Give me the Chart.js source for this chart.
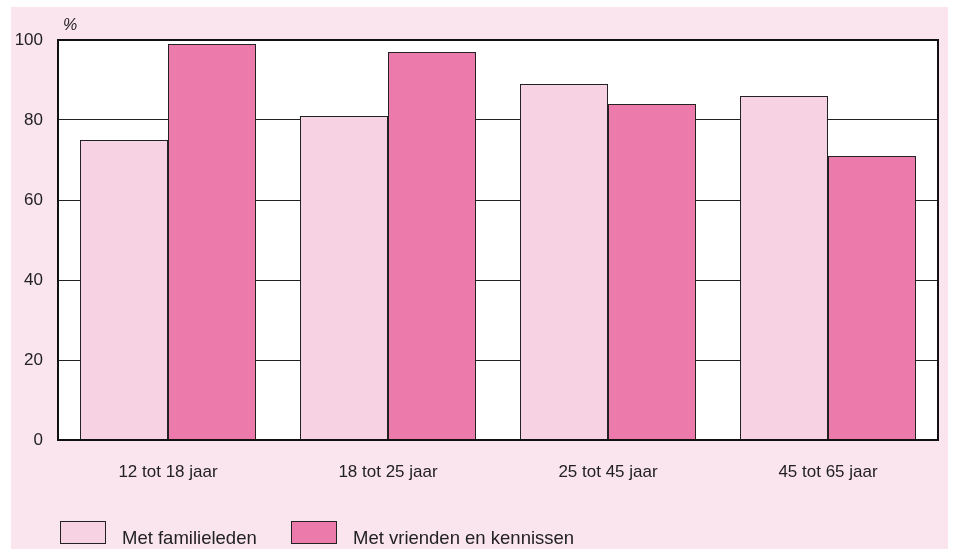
<!DOCTYPE html>
<html>
<head>
<meta charset="utf-8">
<script src="https://cdn.jsdelivr.net/npm/chart.js@4/dist/chart.umd.min.js"></script>
<style>
  html, body { margin: 0; padding: 0; background: #ffffff; }
  #wrap { width: 959px; height: 549px; position: relative; }
</style>
</head>
<body>
<div id="wrap"><canvas id="c" width="959" height="549"></canvas></div>
<script>
const categories = ['12 tot 18 jaar', '18 tot 25 jaar', '25 tot 45 jaar', '45 tot 65 jaar'];
const familieleden = [75, 81, 89, 86];
const vrienden = [99, 97, 84, 71];
const seriesLabels = ['Met familieleden', 'Met vrienden en kennissen'];
const seriesColors = ['#f7d2e3', '#ec7aaa'];
const yTicks = [0, 20, 40, 60, 80, 100];
const unitLabel = '%';

const FONT = "'Liberation Sans', Arial, Helvetica, sans-serif";

const decor = {
  id: 'decor',
  beforeDraw(chart) {
    const ctx = chart.ctx;
    ctx.save();
    ctx.fillStyle = '#ffffff';
    ctx.fillRect(0, 0, chart.width, chart.height);
    ctx.fillStyle = '#fae4ee';
    ctx.fillRect(11, 7, 937, chart.height - 7);
    const a = chart.chartArea;
    ctx.fillStyle = '#ffffff';
    ctx.fillRect(a.left, a.top, a.right - a.left, a.bottom - a.top);
    ctx.restore();
  },
  afterDraw(chart) {
    const ctx = chart.ctx;
    const a = chart.chartArea;
    ctx.save();
    ctx.strokeStyle = '#111';
    ctx.lineWidth = 2;
    ctx.strokeRect(a.left, a.top, a.right - a.left, a.bottom - a.top);
    // unit label
    ctx.fillStyle = '#222';
    ctx.font = 'italic 16px ' + FONT;
    ctx.textBaseline = 'middle';
    ctx.textAlign = 'left';
    ctx.fillText(unitLabel, 63, 26);
    // legend
    const items = chart.data.datasets;
    const boxX = [60, 291];
    items.forEach((ds, i) => {
      const x = boxX[i];
      ctx.fillStyle = ds.backgroundColor;
      ctx.fillRect(x, 521, 45, 22);
      ctx.strokeStyle = '#222';
      ctx.lineWidth = 1;
      ctx.strokeRect(x + 0.5, 521.5, 45, 22);
      ctx.fillStyle = '#222';
      ctx.font = '18.5px ' + FONT;
      ctx.textBaseline = 'alphabetic';
      ctx.fillText(ds.label, x + 62, 543.5);
    });
    ctx.restore();
  }
};

new Chart(document.getElementById('c'), {
  type: 'bar',
  data: {
    labels: categories,
    datasets: [
      { label: seriesLabels[0], data: familieleden, backgroundColor: seriesColors[0], borderColor: '#222', borderWidth: 1 },
      { label: seriesLabels[1], data: vrienden, backgroundColor: seriesColors[1], borderColor: '#222', borderWidth: 1 }
    ]
  },
  options: {
    responsive: false,
    animation: false,
    devicePixelRatio: 1,
    layout: { padding: { top: 40, right: 21, left: 0, bottom: 0 } },
    plugins: { legend: { display: false }, tooltip: { enabled: false }, title: { display: false } },
    datasets: { bar: { categoryPercentage: 0.8, barPercentage: 1.0 } },
    scales: {
      x: {
        grid: { display: false },
        border: { display: false },
        ticks: { color: '#222', font: { family: FONT, size: 17 }, padding: 14 },
        afterFit(scale) { scale.height = 109; }
      },
      y: {
        min: 0, max: 100,
        afterBuildTicks(scale) { scale.ticks = yTicks.map(v => ({ value: v })); },
        grid: { color: '#222', lineWidth: 1, drawTicks: false },
        border: { display: false },
        ticks: { color: '#222', font: { family: FONT, size: 17 }, padding: 15 },
        afterFit(scale) { scale.width = 58; }
      }
    }
  },
  plugins: [decor]
});
</script>
</body>
</html>
